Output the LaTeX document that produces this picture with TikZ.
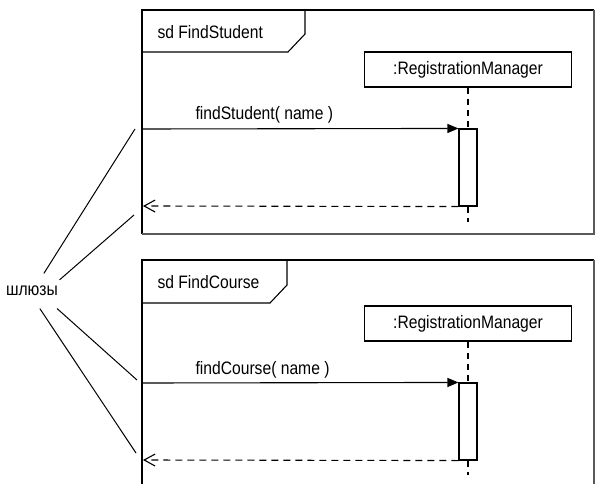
\documentclass[tikz,border=0pt]{standalone}
\usepackage{fontspec}
\setmainfont{Liberation Sans}[FakeStretch=0.87]
\usetikzlibrary{arrows.meta}

\begin{document}
\begin{tikzpicture}[x=1pt,y=-1pt,line width=1.1pt,
  font=\fontsize{18}{20}\selectfont,
  edge/.style={black!65,line width=1.8pt},
  objbox/.style={draw,minimum width=207pt,minimum height=35pt,inner sep=0pt},
  actbox/.style={draw,fill=white,minimum width=18pt,minimum height=77pt,inner sep=0pt},
  lifeline/.style={dash pattern=on 6pt off 5pt},
  call/.style={-{Triangle[length=11pt,width=9pt]}},
  reply/.style={dash pattern=on 7pt off 5pt,-{Straight Barb[length=11pt,width=12pt]}},
  gwline/.style={line width=1pt}]
  \useasboundingbox (0,0) rectangle (596,484);

  % sd FindStudent
  \draw (142,234) -- (142,10) -- (594,10);
  \draw[edge] (594,10) -- (594,234) -- (142,234);
  \draw (142,52) -- (288,52) -- (305,34) -- (305,10);
  \node[anchor=west,inner sep=0pt] (sd1) at (157,32) {sd FindStudent};
  \node[objbox] (rm1) at (468,69.5) {:RegistrationManager};
  \node[actbox] (act1) at (468,167.5) {};
  \coordinate (end1) at (468,222);
  \coordinate (in1) at (142,129);
  \coordinate (out1) at (143,206);
  \draw[lifeline] (rm1.south) -- (act1.north);
  \draw[lifeline] (act1.south) -- (end1);
  \draw[call] (in1) -- (act1.north west);
  \draw[reply] (act1.south west) -- (out1);
  \node[anchor=base west,inner sep=0pt] (msg1) at (195,120) {findStudent( name )};

  % sd FindCourse
  \draw (142,484) -- (142,260) -- (594,260);
  \draw[edge] (594,260) -- (594,484);
  \draw (142,303) -- (270,303) -- (287,285) -- (287,260);
  \node[anchor=west,inner sep=0pt] (sd2) at (157,282) {sd FindCourse};
  \node[objbox] (rm2) at (468,323.5) {:RegistrationManager};
  \node[actbox] (act2) at (468,421.5) {};
  \coordinate (end2) at (468,475);
  \coordinate (in2) at (142,383);
  \coordinate (out2) at (143,460);
  \draw[lifeline] (rm2.south) -- (act2.north);
  \draw[lifeline] (act2.south) -- (end2);
  \draw[call] (in2) -- (act2.north west);
  \draw[reply] (act2.south west) -- (out2);
  \node[anchor=base west,inner sep=0pt] (msg2) at (195,374) {findCourse( name )};

  % gates
  \node[minimum width=54pt,minimum height=34pt,inner sep=0pt] (gw) at (32,291) {шлюзы};
  \coordinate (gw1) at (135,129);
  \coordinate (gw2) at (134,215);
  \coordinate (gw3) at (137,380);
  \coordinate (gw4) at (136,453);
  \draw[gwline] (gw.56) -- (gw1);
  \draw[gwline] (gw.22) -- (gw2);
  \draw[gwline] (gw.-35) -- (gw3);
  \draw[gwline] (gw.-66) -- (gw4);
\end{tikzpicture}
\end{document}
